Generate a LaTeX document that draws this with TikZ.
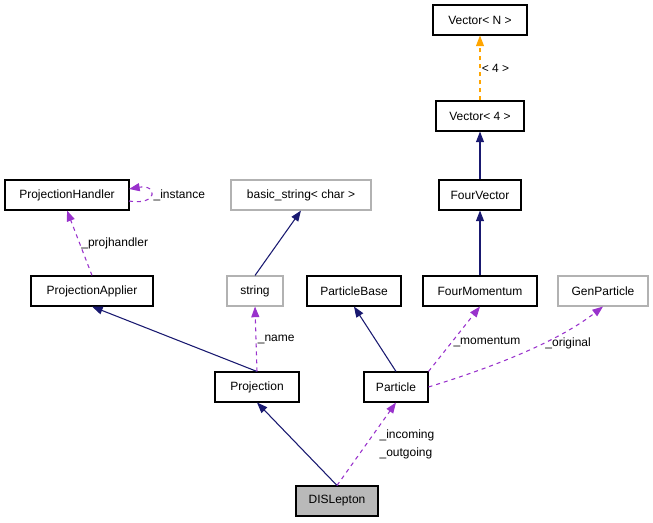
\documentclass[tikz,border=0pt]{standalone}
\usepackage{fontspec}
\setmainfont{Liberation Sans}
\usetikzlibrary{arrows.meta}
\definecolor{inh}{RGB}{25,25,112}
\definecolor{usage}{RGB}{153,50,204}
\definecolor{tmpl}{RGB}{255,165,0}
\begin{document}
\begin{tikzpicture}[x=0.75pt,y=-0.75pt,>={Triangle[length=8pt,width=6pt]},
  box/.style={draw,thick,minimum height=22.5pt,inner sep=0pt,font=\fontsize{9}{10}\selectfont},
  grey/.style={box,draw=gray!60},
  isa/.style={->,color=inh,thick},
  uses/.style={->,color=usage,thick,dashed},
  lbl/.style={font=\fontsize{9}{10}\selectfont,inner sep=1pt}]
\useasboundingbox (0,0) rectangle (653,523);

% classes
\node[box,minimum width=70.5pt] (vn) at (480,20) {Vector< N >};
\node[box,minimum width=66pt] (v4) at (480,116) {Vector< 4 >};
\node[box,minimum width=61.5pt] (fv) at (480,195) {FourVector};
\node[box,minimum width=85.5pt] (fm) at (480,291) {FourMomentum};
\node[grey,minimum width=67.5pt] (gp) at (603,291) {GenParticle};
\node[box,minimum width=70.5pt] (pb) at (354,291) {ParticleBase};
\node[box,minimum width=48pt] (pa) at (396,387) {Particle};
\node[grey,minimum width=42pt] (st) at (255,291) {string};
\node[grey,minimum width=105pt] (bs) at (301,195) {basic\_string< char >};
\node[box,minimum width=93pt] (ph) at (67,195) {ProjectionHandler};
\node[box,minimum width=91.5pt] (pap) at (92,291) {ProjectionApplier};
\node[box,minimum width=63pt] (pr) at (257,387) {Projection};
\node[box,minimum width=61.5pt,fill=gray!55] (dis) at (337,501) {DISLepton};

% inheritance
\draw[isa] (fv) -- (v4);
\draw[isa] (fm) -- (fv);
\draw[isa] (st.north) -- (bs.south);
\draw[isa] (pa.north) -- (pb.south);
\draw[isa] (pr.north) -- (pap.south);
\draw[isa] (dis.north) -- (pr.south);

% usage
\draw[->,color=tmpl,thick,dashed] (v4) -- (vn) node[lbl,midway,right,text=black] {< 4 >};
\draw[uses] (pa.north east) -- (fm.south) node[lbl,pos=0.45,right,text=black] {\_momentum};
\draw[uses] (pa.east) .. controls (500,365) and (560,340) .. (gp.south) node[lbl,pos=0.6,right,text=black] {\_original};
\draw[uses] (pr.north) -- (st.south) node[lbl,midway,right,text=black] {\_name};
\draw[uses] (pap.north) -- (ph.south) node[lbl,midway,right,text=black] {\_projhandler};
\coordinate (ia) at (129,201);
\coordinate (ib) at (129,189);
\draw[uses] (ia) .. controls (158,206) and (158,184) .. (ib);
\node[lbl,anchor=west] (inst) at (152,195) {\_instance};
\draw[uses] (dis.north) -- (pa.south);
\node[lbl,anchor=west] (inc) at (378,435) {\_incoming};
\node[lbl,anchor=west] (out) at (378,453) {\_outgoing};
\end{tikzpicture}
\end{document}
